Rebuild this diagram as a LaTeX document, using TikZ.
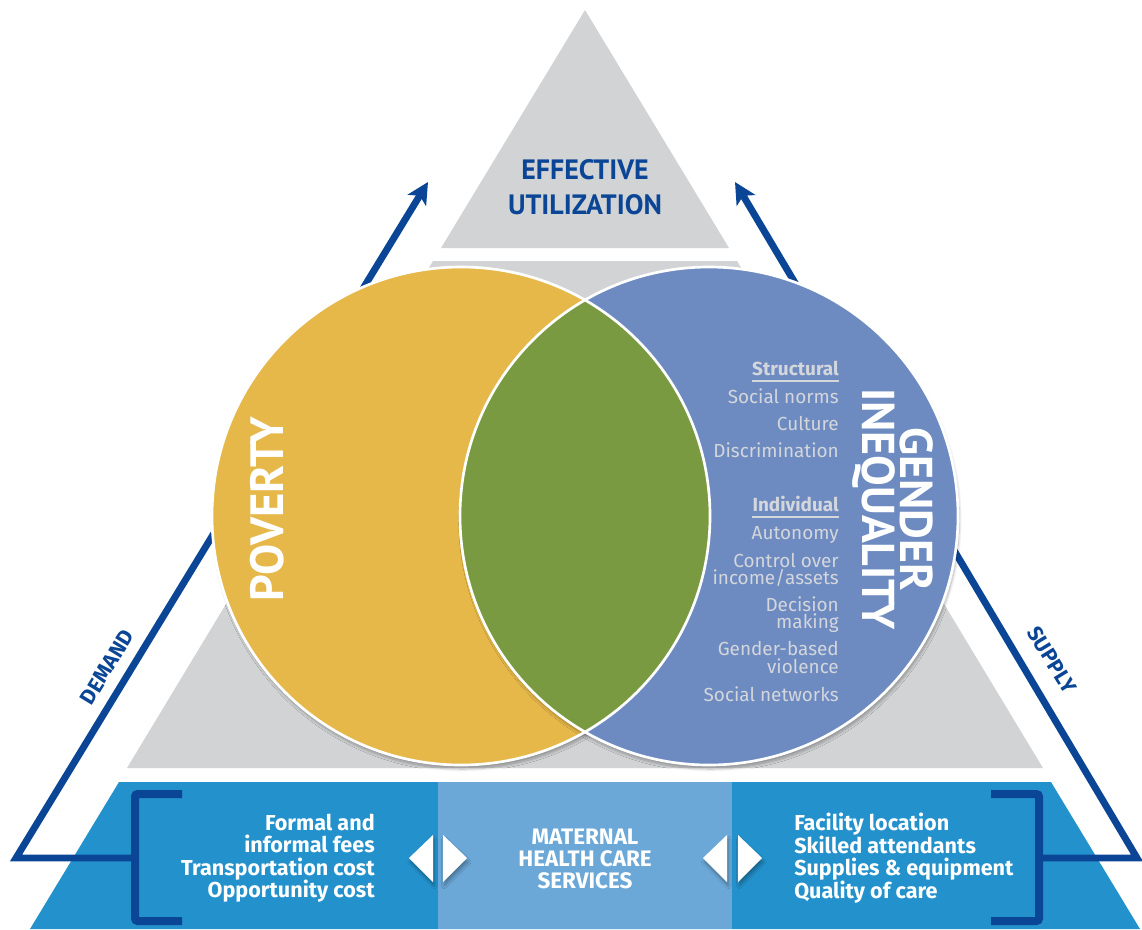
\documentclass[tikz,border=0pt]{standalone}
\usepackage{fontspec}
\setmainfont{PT Sans}
\newfontfamily\widefont{Fira Sans}
\usetikzlibrary{arrows.meta,shadows.blur}

\definecolor{triGray}{RGB}{209,211,213}
\definecolor{darkBlue}{RGB}{11,69,149}
\definecolor{bandBlue}{RGB}{35,145,203}
\definecolor{midBand}{RGB}{108,168,215}
\definecolor{povYellow}{RGB}{230,184,74}
\definecolor{genBlue}{RGB}{109,139,193}
\definecolor{lensGreen}{RGB}{121,154,64}
\definecolor{listGray}{RGB}{211,214,219}

\tikzset{
  flowline/.style={draw=darkBlue, line width=5.2pt},
  bracketline/.style={draw=darkBlue, line width=6pt, rounded corners=2pt},
  ringline/.style={draw=white, line width=2pt},
  bandtext/.style={text=white, font=\widefont\bfseries\fontsize{16.2}{16.9}\selectfont, inner sep=0pt},
  listtext/.style={text=listGray, inner sep=0pt, anchor=base east},
  sidetext/.style={text=darkBlue, font=\widefont\bfseries\fontsize{16}{17}\selectfont, inner sep=0pt},
  softshadow/.style={blur shadow={shadow xshift=1pt, shadow yshift=-3pt, shadow blur steps=8, shadow opacity=30}}
}

\begin{document}
\begin{tikzpicture}[x=0.75pt,y=0.75pt,yscale=-1,xscale=1]
\useasboundingbox (0,0) rectangle (1142,929);

% Bands of the triangle
\fill[triGray] (585,10) -- (729,248) -- (441,248) -- cycle;
\fill[triGray] (433,261) -- (737,261) -- (1043,768) -- (127,768) -- cycle;
\fill[bandBlue] (119,782) -- (1051,782) -- (1140,929) -- (30,929) -- cycle;
\fill[midBand] (438,782) rectangle (732,929);

% Demand / supply connections
\coordinate (demandMid) at (135,858);
\coordinate (demandCorner) at (16,858);
\coordinate (demandTip) at (428,182);
\coordinate (supplyMid) at (1039,858);
\coordinate (supplyCorner) at (1137,858);
\coordinate (supplyTip) at (735,182);
\draw[flowline, -{Stealth[length=16pt, width=16pt, inset=4pt]}] (demandMid) -- (demandCorner) -- (demandTip);
\draw[flowline, -{Stealth[length=16pt, width=16pt, inset=4pt]}] (supplyMid) -- (supplyCorner) -- (supplyTip);

% Brackets
\draw[bracketline] (182,794) -- (135,794) -- (135,921) -- (182,921);
\draw[bracketline] (991,794) -- (1039,794) -- (1039,921) -- (991,921);

% Circles
\fill[povYellow, softshadow] (461,516) circle [radius=249];
\fill[genBlue, softshadow] (709,516) circle [radius=249];
\begin{scope}
  \clip (461,516) circle [radius=249];
  \fill[lensGreen] (709,516) circle [radius=249];
\end{scope}
\draw[ringline] (461,516) circle [radius=249];
\draw[ringline] (709,516) circle [radius=249];

% Text Node
\node[text=darkBlue, font=\bfseries\fontsize{21}{26.3}\selectfont, align=center] (util) at (585,187) {EFFECTIVE\\UTILIZATION};
% Text Node
\node[text=white, font=\bfseries\fontsize{35}{35}\selectfont, rotate=90, inner sep=0pt] (poverty) at (267,509) {POVERTY};
% Text Node
\node[text=white, font=\bfseries\fontsize{34.5}{28.5}\selectfont, rotate=-90, align=center, inner sep=0pt] (gender) at (893,509) {GENDER\\INEQUALITY};

% Gender list
\foreach \y/\t/\w [count=\i] in {375/Structural/\bfseries, 403/Social norms/\mdseries, 430/Culture/\mdseries, 457/Discrimination/\mdseries, 511/Individual/\bfseries, 539/Autonomy/\mdseries, 567/Control over/\mdseries, 584/income\slash assets/\mdseries, 611/Decision/\mdseries, 628/making/\mdseries, 655/Gender-based/\mdseries, 673/violence/\mdseries, 701/Social networks/\mdseries}
  \node[listtext, font=\widefont\w\fontsize{14.2}{17}\selectfont] (item\i) at (839,\y) {\t};
\draw[listGray, line width=1.5pt] ([shift={(0,6)}]item1.base west) -- ([shift={(0,6)}]item1.base east);
\draw[listGray, line width=1.5pt] ([shift={(0,6)}]item5.base west) -- ([shift={(0,6)}]item5.base east);

% Side labels
\node[sidetext, rotate=58.5] (demand) at (107,667) {DEMAND};
\node[sidetext, rotate=-58.5] (supply) at (1052,660) {SUPPLY};

% Bottom texts
\node[bandtext, align=right, anchor=east] (costs) at (375,858) {Formal and\\informal fees\\Transportation cost\\Opportunity cost};
\node[bandtext, align=left, anchor=west] (services) at (794,858) {Facility location\\Skilled attendants\\Supplies \& equipment\\Quality of care};
\node[bandtext, align=center, font=\widefont\bfseries\fontsize{16.8}{16.5}\selectfont] (maternal) at (585,859) {MATERNAL\\HEALTH CARE\\SERVICES};

% Double arrows
\fill[white, softshadow] (409,858) -- (433,835) -- (433,882) -- cycle;
\fill[white, softshadow] (467,858) -- (443,835) -- (443,882) -- cycle;
\fill[white, softshadow] (703,858) -- (727,835) -- (727,882) -- cycle;
\fill[white, softshadow] (762,858) -- (738,835) -- (738,882) -- cycle;

\end{tikzpicture}
\end{document}
